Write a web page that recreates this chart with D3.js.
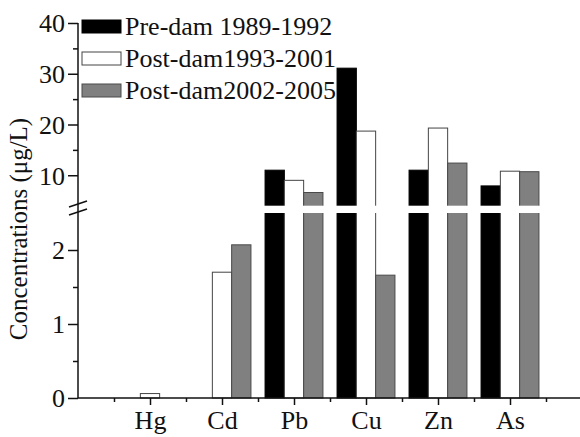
<!DOCTYPE html>
<html>
<head>
<meta charset="utf-8">
<script src="https://cdn.jsdelivr.net/npm/d3@7"></script>
<style>
  body { margin: 0; background: #fff; }
  text { font-family: "Liberation Serif", "Times New Roman", serif; fill: #111; }
</style>
</head>
<body>
<svg id="chart" width="580" height="437"></svg>
<script>
var categories = ["Hg", "Cd", "Pb", "Cu", "Zn", "As"];
var preDam = [null, null, 11.0, 31.1, 11.0, 7.9];
var postDam1 = [0.06, 1.70, 9.0, 18.7, 19.3, 10.8];
var postDam2 = [null, 2.07, 6.6, 1.66, 12.4, 10.7];
var seriesNames = ["Pre-dam 1989-1992", "Post-dam1993-2001", "Post-dam2002-2005"];
var seriesFill = ["#000000", "#ffffff", "#808080"];
var seriesStroke = ["#000000", "#444444", "#4a4a4a"];
var lowTicks = [0, 1, 2];
var lowMinor = [0.5, 1.5];
var highTicks = [10, 20, 30, 40];
var highMinor = [15, 25, 35];

var svg = d3.select("#chart");

// x runs 0..7, categories sit at 1..6
var x = d3.scaleLinear().domain([0, 7]).range([78, 582]);
// broken y axis: two segments
var yLow = d3.scaleLinear().domain([0, 2.5]).range([398, 213]);
var yHigh = d3.scaleLinear().domain([4, 40]).range([205.7, 23]);
var barW = x(0.268) - x(0);

var series = [preDam, postDam1, postDam2];

// bars
var gBars = svg.append("g");
series.forEach(function(vals, s) {
    vals.forEach(function(v, i) {
        if (v == null) return;
        var cx = x(i + 1) + (s - 1) * barW;
        var x0 = cx - barW / 2;
        if (v <= 2.5) {
            gBars.append("rect")
                .attr("x", x0).attr("width", barW)
                .attr("y", yLow(v)).attr("height", yLow(0) - yLow(v))
                .attr("fill", seriesFill[s]).attr("stroke", seriesStroke[s]).attr("stroke-width", 1);
        } else {
            // lower part runs into the break, the white band hides its top edge
            gBars.append("rect")
                .attr("x", x0).attr("width", barW)
                .attr("y", yLow(2.5) - 4).attr("height", yLow(0) - yLow(2.5) + 4)
                .attr("fill", seriesFill[s]).attr("stroke", seriesStroke[s]).attr("stroke-width", 1);
            gBars.append("rect")
                .attr("x", x0).attr("width", barW)
                .attr("y", yHigh(v)).attr("height", yHigh(4) - yHigh(v) + 4)
                .attr("fill", seriesFill[s]).attr("stroke", seriesStroke[s]).attr("stroke-width", 1);
        }
    });
});

// white gap at the break
svg.append("rect")
    .attr("x", x(0) + 1).attr("width", 580 - x(0))
    .attr("y", yHigh(4)).attr("height", yLow(2.5) - yHigh(4))
    .attr("fill", "#fff");

// y axis segments
var axLow = d3.axisLeft(yLow).tickValues(lowTicks).tickSize(10).tickPadding(3).tickFormat(d3.format("d"));
var axLowMinor = d3.axisLeft(yLow).tickValues(lowMinor).tickSize(5).tickFormat("");
var axHigh = d3.axisLeft(yHigh).tickValues(highTicks).tickSize(10).tickPadding(3).tickFormat(d3.format("d"));
var axHighMinor = d3.axisLeft(yHigh).tickValues(highMinor).tickSize(5).tickFormat("");

[axLow, axLowMinor, axHigh, axHighMinor].forEach(function(ax) {
    var g = svg.append("g").attr("transform", "translate(" + x(0) + ",0)").call(ax);
    g.select(".domain").remove();
    g.selectAll("line").attr("stroke", "#111").attr("stroke-width", 1.5);
    g.selectAll("text").style("font-size", "26px").style("font-family", "Liberation Serif").attr("dy", "0.34em");
});

// continuous y axis line
svg.append("line")
    .attr("x1", x(0)).attr("x2", x(0))
    .attr("y1", yHigh(40)).attr("y2", yLow(0))
    .attr("stroke", "#111").attr("stroke-width", 1.5);

// break marks
[0, 1].forEach(function(k) {
    var yy = 204 + k * 8;
    svg.append("line")
        .attr("x1", x(0) - 9).attr("x2", x(0) + 9)
        .attr("y1", yy + 3).attr("y2", yy - 3)
        .attr("stroke", "#111").attr("stroke-width", 1.5);
});

// x axis
var xMajor = categories.map(function(c, i) { return i + 1; });
var xMinor = d3.range(0.5, 7, 1);
var gx = svg.append("g").attr("transform", "translate(0," + yLow(0) + ")")
    .call(d3.axisBottom(x).tickValues(xMajor).tickSize(7).tickPadding(6)
        .tickFormat(function(d) { return categories[d - 1]; }));
gx.select(".domain").attr("d", "M" + x(0) + ",0H580").attr("stroke", "#111").attr("stroke-width", 1.5);
gx.selectAll("line").attr("stroke", "#111").attr("stroke-width", 1.5);
gx.selectAll("text").style("font-size", "26px").style("font-family", "Liberation Serif");
var gxm = svg.append("g").attr("transform", "translate(0," + yLow(0) + ")")
    .call(d3.axisBottom(x).tickValues(xMinor).tickSize(4).tickFormat(""));
gxm.select(".domain").remove();
gxm.selectAll("line").attr("stroke", "#111").attr("stroke-width", 1.5);

// y title
svg.append("text")
    .attr("transform", "translate(27,229) rotate(-90)")
    .attr("text-anchor", "middle")
    .style("font-size", "25px")
    .text("Concentrations (\u03bcg/L)");

// legend
var leg = svg.append("g");
seriesNames.forEach(function(name, s) {
    var ly = 27 + s * 32;
    leg.append("rect")
        .attr("x", 82).attr("y", ly - 7).attr("width", 39).attr("height", 13)
        .attr("fill", seriesFill[s]).attr("stroke", seriesStroke[s]).attr("stroke-width", 1);
    leg.append("text")
        .attr("x", 125).attr("y", ly + 8)
        .style("font-size", "26px")
        .text(name);
});
</script>
</body>
</html>
